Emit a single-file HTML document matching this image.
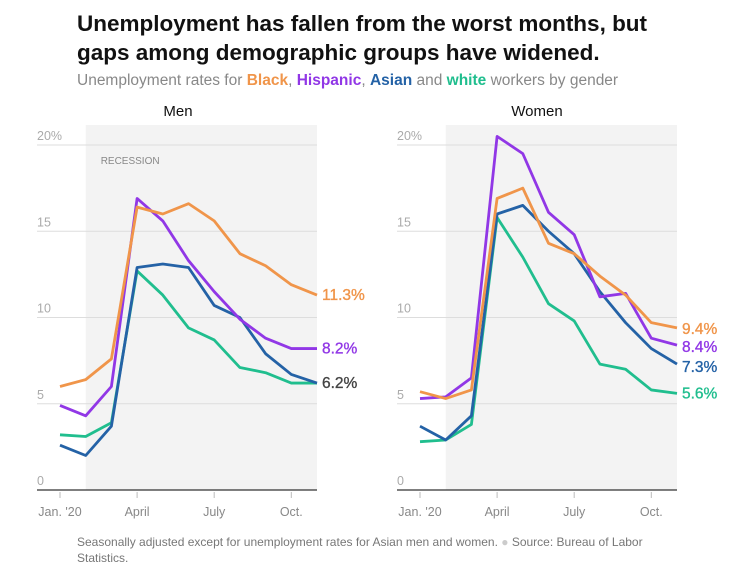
<!DOCTYPE html>
<html><head><meta charset="utf-8">
<style>
body{margin:0;background:#fff;font-family:"Liberation Sans",sans-serif;}
#wrap{position:relative;width:742px;height:569px;overflow:hidden;}
.t{position:absolute;left:77px;font-weight:bold;font-size:22.5px;color:#111;line-height:29px;top:9px;width:575px;}
.sub{position:absolute;left:77px;top:72px;font-size:15.5px;color:#888;}
.foot{position:absolute;left:77px;top:534px;font-size:12px;color:#777;line-height:16px;width:620px;}
svg{position:absolute;left:0;top:0;}
</style></head><body>
<div id="wrap">
<div class="t">Unemployment has fallen from the worst months, but gaps among demographic groups have widened.</div>
<div class="sub">Unemployment rates for <b style="color:#f0954a">Black</b>, <b style="color:#9137e6">Hispanic</b>, <b style="color:#2462a6">Asian</b> and <b style="color:#20be8e">white</b> workers by gender</div>
<div class="foot">Seasonally adjusted except for unemployment rates for Asian men and women. <span style="color:#ccc">●</span> Source: Bureau of Labor Statistics.</div>
<svg id="svg" width="742" height="569"></svg>
</div>
<script>
const months=["Jan","Feb","Mar","Apr","May","Jun","Jul","Aug","Sep","Oct","Nov"];
const tickLabels=["Jan. '20","April","July","Oct."];
const tickIdx=[0,3,6,9];
const yTicks=[0,5,10,15,20];
const groups=["white","asian","hispanic","black"];
const menBlack=[6.0,6.4,7.6,16.4,16.0,16.6,15.6,13.7,13.0,11.9,11.3];
const menHispanic=[4.9,4.3,6.0,16.9,15.6,13.3,11.5,9.9,8.8,8.2,8.2];
const menAsian=[2.6,2.0,3.7,12.9,13.1,12.9,10.7,10.0,7.9,6.7,6.2];
const menWhite=[3.2,3.1,3.9,12.7,11.3,9.4,8.7,7.1,6.8,6.2,6.2];
const womenBlack=[5.7,5.3,5.8,16.9,17.5,14.3,13.7,12.4,11.3,9.7,9.4];
const womenHispanic=[5.3,5.4,6.5,20.5,19.5,16.1,14.8,11.2,11.4,8.8,8.4];
const womenAsian=[3.7,2.9,4.3,16.0,16.5,15.0,13.7,11.5,9.7,8.2,7.3];
const womenWhite=[2.8,2.9,3.8,15.8,13.5,10.8,9.8,7.3,7.0,5.8,5.6];
const colors={black:"#f0954a",hispanic:"#9137e6",asian:"#2462a6",white:"#20be8e"};
const NS="http://www.w3.org/2000/svg";
const svg=document.getElementById("svg");
function mk(tag,attrs,parent){const e=document.createElementNS(NS,tag);for(const k in attrs)e.setAttribute(k,attrs[k]);(parent||svg).appendChild(e);return e;}
function panel(name,x0,x1,janX,data,labels,titleX){
  const g=mk("g",{});
  
  
  const step=25.7;
  const xs=i=>janX+i*step;
  const ys=v=>490-v*17.25;
  const sh=mk("rect",{x:xs(1),y:125,width:x1-xs(1),height:365,fill:"#f3f3f3"},g);
  
  
  if(name==="men"){const r=mk("text",{x:xs(1)+15,y:164,"font-size":10,fill:"#888"},g);r.textContent="RECESSION";
  
  }
  yTicks.forEach(v=>{
    if(v>0){const l=mk("line",{x1:x0,x2:x1,y1:ys(v),y2:ys(v),stroke:"#ddd","stroke-width":1},g);
    
    }
    const t=mk("text",{x:x0,y:ys(v)-5,"font-size":12.5,fill:"#aaa"},g);
    t.textContent=v===20?"20%":v;
    
    
  });
  const ax=mk("line",{x1:x0,x2:x1,y1:490,y2:490,stroke:"#333","stroke-width":1.3},g);
  
  
  tickIdx.forEach((m,k)=>{
    const tk=mk("line",{x1:xs(m),x2:xs(m),y1:492,y2:498,stroke:"#bbb"},g);
    
    
    const t=mk("text",{x:xs(m),y:516,"font-size":12.5,fill:"#888","text-anchor":"middle"},g);
    t.textContent=tickLabels[k];
    
    
  });
  const tt=mk("text",{x:titleX,y:116,"font-size":15,fill:"#111","text-anchor":"middle"},g);
  tt.textContent=name==="men"?"Men":"Women";
  
  
  groups.forEach(gr=>{
    const vals=data[gr];
    const p=mk("polyline",{points:vals.map((v,i)=>xs(i)+","+ys(v)).join(" "),fill:"none",stroke:colors[gr],"stroke-width":2.8,"stroke-linejoin":"round"},g);
    
    
  });
  labels.forEach(l=>{
    const v=data[l.g][data[l.g].length-1];
    const t=mk("text",{x:x1+5,y:ys(v)+l.dy+5,"font-size":15.5,fill:l.c||colors[l.g],stroke:l.c||colors[l.g],"stroke-width":0.35},g);
    t.textContent=v.toFixed(1)+"%";
    
    
  });
}
panel("men",37,317,60,{black:menBlack,hispanic:menHispanic,asian:menAsian,white:menWhite},
 [{g:"black",dy:0},{g:"hispanic",dy:0},{g:"asian",dy:0,c:"#444"}],178);
panel("women",397,677,420,{black:womenBlack,hispanic:womenHispanic,asian:womenAsian,white:womenWhite},
 [{g:"black",dy:1},{g:"hispanic",dy:2},{g:"asian",dy:3},{g:"white",dy:0}],537);
</script>
</body></html>
